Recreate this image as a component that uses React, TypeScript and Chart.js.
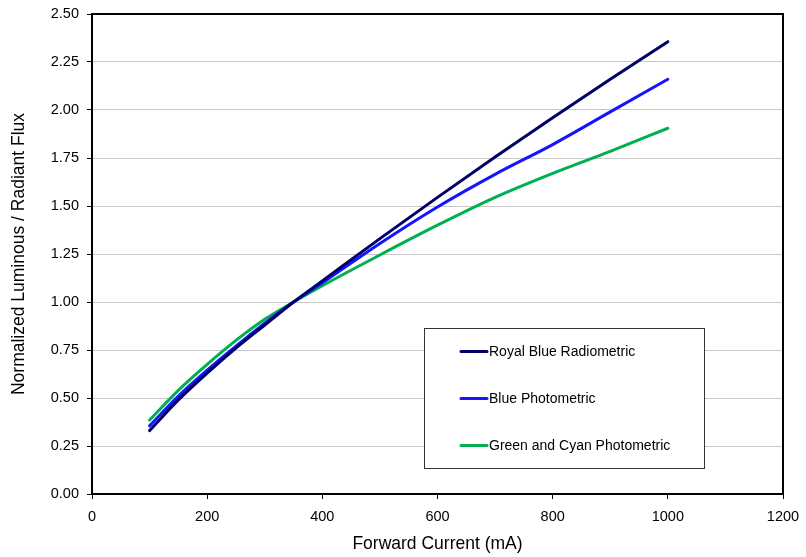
import React, { useEffect, useRef } from "react";
import { Chart, registerables } from "chart.js";

Chart.register(...registerables);

const currents = [100, 150, 200, 250, 300, 350, 400, 500, 600, 700, 800, 900, 1000];
const royalBlueRadiometric = [0.33, 0.49, 0.63, 0.76, 0.88, 1.0, 1.11, 1.33, 1.545, 1.755, 1.96, 2.16, 2.356];
const bluePhotometric = [0.355, 0.51, 0.645, 0.77, 0.89, 1.0, 1.1, 1.305, 1.495, 1.665, 1.82, 1.99, 2.16];
const greenCyanPhotometric = [0.385, 0.54, 0.675, 0.8, 0.91, 1.0, 1.085, 1.245, 1.4, 1.545, 1.67, 1.785, 1.905];

const seriesLabels = ["Royal Blue Radiometric", "Blue Photometric", "Green and Cyan Photometric"];
const seriesColors = ["#000066", "#1414ff", "#00b050"];
const xAxisTitle = "Forward Current (mA)";
const yAxisTitle = "Normalized Luminous / Radiant Flux";

const FONT = "'Liberation Sans', Arial, sans-serif";

const frameAndLegend = {
  id: "frameAndLegend",
  afterDatasetsDraw(chart: any) {
    const { ctx, chartArea } = chart;
    ctx.save();
    ctx.strokeStyle = "#000";
    ctx.lineWidth = 2;
    ctx.strokeRect(chartArea.left, chartArea.top, chartArea.right - chartArea.left, chartArea.bottom - chartArea.top);
    const xs = chart.scales.x;
    const ys = chart.scales.y;
    const bx = Math.round(xs.getPixelForValue(576));
    const by = Math.round(ys.getPixelForValue(0.862));
    const bw = 280;
    const bh = 140;
    ctx.fillStyle = "#fff";
    ctx.fillRect(bx, by, bw, bh);
    ctx.strokeStyle = "#333";
    ctx.lineWidth = 1;
    ctx.strokeRect(bx + 0.5, by + 0.5, bw, bh);
    ctx.font = "14px " + FONT;
    ctx.textBaseline = "middle";
    ctx.textAlign = "left";
    chart.data.datasets.forEach((ds: any, i: number) => {
      const y = by + 23.5 + i * 47;
      ctx.strokeStyle = ds.borderColor;
      ctx.lineWidth = 3;
      ctx.lineCap = "round";
      ctx.beginPath();
      ctx.moveTo(bx + 37, y);
      ctx.lineTo(bx + 63, y);
      ctx.stroke();
      ctx.fillStyle = "#000";
      ctx.fillText(ds.label, bx + 65, y + 0.5);
    });
    ctx.restore();
  },
};

export default function App() {
  const ref = useRef<HTMLCanvasElement>(null);
  useEffect(() => {
    if (!ref.current) return;
    const chart = new Chart(ref.current, {
      type: "line",
      data: {
        datasets: [royalBlueRadiometric, bluePhotometric, greenCyanPhotometric].map((vals, i) => ({
          label: seriesLabels[i],
          data: currents.map((c, j) => ({ x: c, y: vals[j] })),
          borderColor: seriesColors[i],
          backgroundColor: seriesColors[i],
          borderWidth: 3,
          pointRadius: 0,
          cubicInterpolationMode: "monotone" as const,
          borderCapStyle: "round" as const,
          fill: false,
        })),
      },
      options: {
        animation: false,
        responsive: false,
        maintainAspectRatio: false,
        layout: { padding: { top: 14, right: 23, left: 0, bottom: 0 } },
        plugins: {
          legend: { display: false },
          tooltip: { enabled: false },
        },
        scales: {
          x: {
            type: "linear",
            min: 0,
            max: 1200,
            ticks: {
              stepSize: 200,
              color: "#000",
              font: { family: FONT, size: 14.5 },
              padding: 9,
              callback: (v: any) => String(v),
            },
            grid: { drawOnChartArea: false, drawTicks: true, tickLength: 5, color: "#000" },
            border: { color: "#000", width: 2 },
            title: { display: true, text: xAxisTitle, color: "#000", font: { family: FONT, size: 17.5 }, padding: { top: 4, bottom: 2 } },
            afterFit: (s: any) => {
              s.height = 63;
              s.paddingLeft = 0;
              s.paddingRight = 0;
            },
          },
          y: {
            type: "linear",
            min: 0,
            max: 2.5,
            ticks: {
              stepSize: 0.25,
              color: "#000",
              font: { family: FONT, size: 14.5 },
              padding: 8,
              callback: (v: any) => Number(v).toFixed(2),
            },
            grid: { color: "#c8c8c8", lineWidth: 1, drawTicks: true, tickLength: 5, tickColor: "#000" },
            border: { color: "#000", width: 2 },
            title: { display: true, text: yAxisTitle, color: "#000", font: { family: FONT, size: 17.5 }, padding: { top: 9, bottom: 4 } },
            afterFit: (s: any) => {
              s.width = 92;
              s.paddingTop = 0;
              s.paddingBottom = 0;
            },
          },
        },
      },
      plugins: [frameAndLegend],
    });
    return () => chart.destroy();
  }, []);
  return (
    <div style={{ position: "fixed", left: 0, top: 0, width: 806, height: 557, background: "#fff" }}>
      <canvas ref={ref} width={806} height={557} style={{ width: 806, height: 557 }} />
    </div>
  );
}
